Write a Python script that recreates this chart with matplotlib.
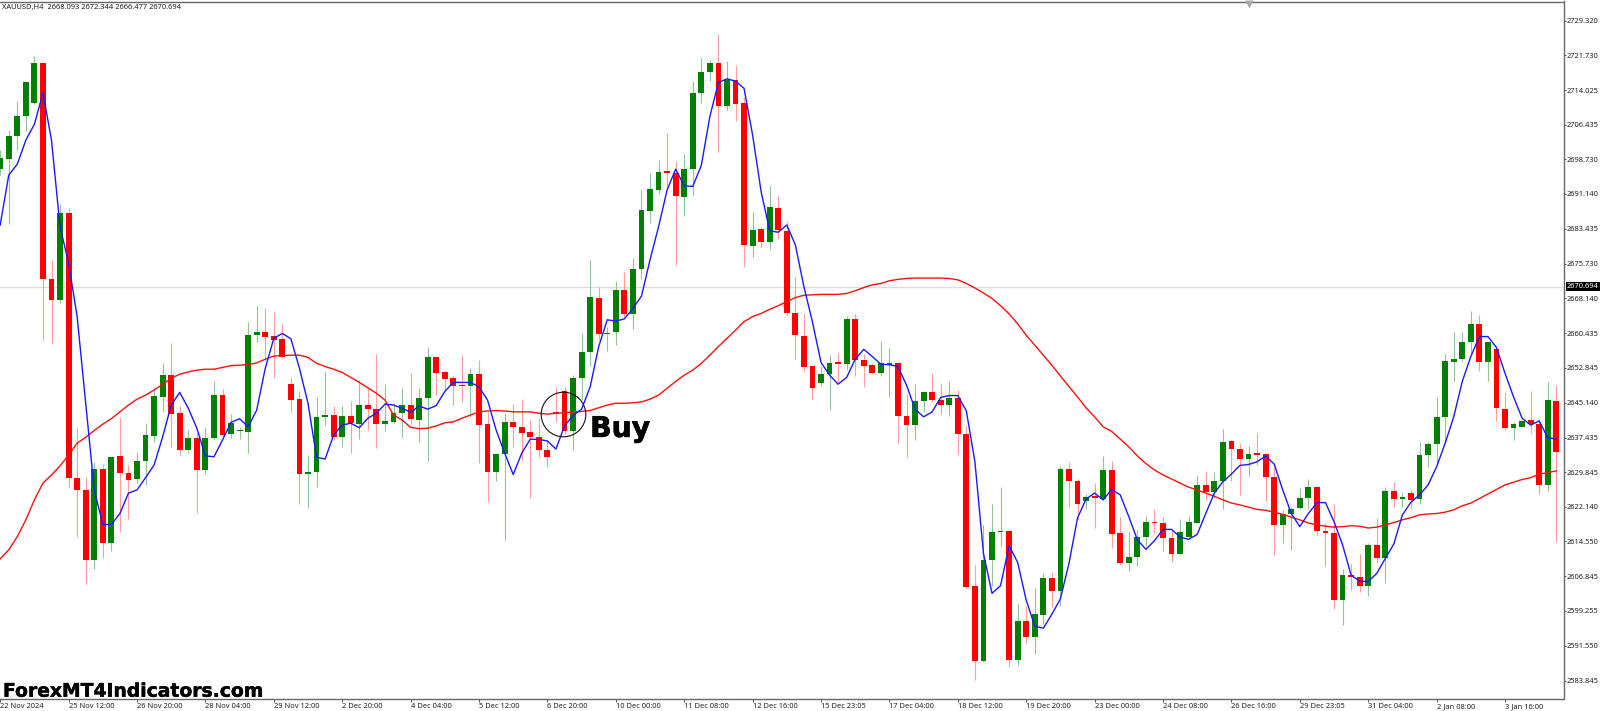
import matplotlib
matplotlib.use("Agg")
import matplotlib.pyplot as plt
import matplotlib.patheffects as pe
import numpy as np

opens = [2696.6,2698.8,2703.8,2708.3,2711.2,2719.9,2672.3,2667.8,2686.9,2628.5,
2625.9,2610.5,2630.4,2614.1,2633.3,2629.6,2628.2,2632.3,2637.8,2646.4,
2651.2,2642.8,2634.7,2637.3,2630.3,2637.4,2646.9,2638.2,2638.8,2638.7,
2660.1,2660.7,2659.8,2659.1,2649.2,2645.9,2629.3,2629.9,2641.9,2642.4,
2637.6,2642.3,2640.5,2644.7,2643.7,2640.5,2640.9,2642.8,2644.6,2641.3,
2646.2,2655.2,2651.8,2650.5,2649.0,2648.7,2651.4,2640.4,2629.8,2633.9,
2640.9,2639.8,2638.6,2637.6,2634.8,2643.0,2647.8,2638.9,2650.6,2656.3,
2668.3,2660.2,2660.6,2670.0,2664.7,2674.6,2687.4,2692.0,2696.0,2695.8,
2690.5,2696.6,2713.3,2718.1,2720.1,2710.6,2716.3,2711.1,2679.6,2683.3,
2680.6,2688.0,2683.0,2665.0,2659.9,2653.3,2649.5,2651.5,2654.0,2653.6,
2663.6,2654.5,2653.4,2651.7,2653.4,2653.9,2642.3,2640.2,2645.4,2647.5,
2645.7,2644.6,2646.2,2638.2,2604.7,2588.3,2610.5,2616.6,2616.9,2588.4,
2597.0,2593.5,2598.4,2606.4,2603.7,2630.4,2627.9,2623.5,2624.6,2623.9,
2630.3,2616.4,2609.9,2611.2,2615.5,2618.8,2618.6,2615.2,2611.8,2615.6,
2618.7,2626.9,2625.4,2627.9,2636.6,2635.0,2632.7,2633.9,2633.8,2628.7,
2618.2,2620.7,2621.9,2624.1,2626.6,2616.8,2616.4,2601.6,2607.1,2606.7,
2604.7,2613.8,2611.0,2625.7,2623.8,2625.2,2623.8,2633.7,2636.0,2642.0,
2654.0,2654.8,2658.4,2662.4,2654.2,2657.0,2643.8,2639.5,2639.7,2641.2,
2640.4,2627.0,2645.6]

closes = [2699.1,2703.9,2708.3,2715.8,2719.9,2672.3,2667.8,2686.9,2628.5,2625.9,
2610.5,2630.4,2614.1,2633.2,2629.6,2628.0,2632.3,2637.9,2646.7,2651.2,
2642.7,2634.7,2637.3,2630.3,2637.4,2646.9,2638.0,2640.6,2639.0,2660.0,
2660.6,2659.5,2658.9,2655.3,2645.7,2629.3,2629.9,2641.9,2642.4,2637.6,
2642.3,2640.6,2644.7,2643.7,2640.5,2641.1,2642.8,2644.6,2641.5,2646.2,
2655.2,2651.7,2650.4,2648.9,2648.7,2651.4,2640.3,2629.8,2633.9,2640.9,
2639.7,2638.5,2637.6,2634.6,2633.1,2642.6,2638.9,2650.6,2656.2,2668.4,
2660.2,2660.4,2670.0,2664.7,2674.6,2687.6,2692.2,2696.0,2695.8,2690.7,
2696.6,2713.3,2718.1,2720.1,2710.5,2716.3,2711.0,2679.8,2683.2,2680.6,
2688.2,2683.2,2665.0,2660.0,2653.1,2648.4,2651.5,2653.9,2653.7,2663.6,
2654.5,2653.3,2651.7,2653.8,2653.9,2642.3,2640.1,2645.5,2647.5,2645.7,
2644.6,2646.2,2638.2,2604.6,2588.3,2610.5,2616.6,2616.9,2588.4,2596.9,
2593.5,2598.5,2606.4,2603.7,2630.4,2627.9,2622.8,2624.4,2624.1,2630.3,
2616.2,2609.7,2611.2,2615.5,2618.8,2618.5,2615.2,2611.8,2616.7,2618.8,
2626.9,2625.4,2627.9,2636.5,2635.0,2632.7,2633.8,2633.6,2628.7,2618.1,
2620.7,2621.7,2624.1,2626.6,2616.8,2616.3,2601.6,2607.2,2606.7,2604.7,
2613.8,2611.0,2625.7,2623.9,2624.4,2623.7,2633.7,2636.0,2642.0,2654.3,
2654.8,2658.5,2662.4,2654.2,2658.4,2644.0,2639.5,2640.4,2641.1,2640.4,
2627.0,2645.7,2634.3]

highs = [2700.8,2705.2,2711.6,2715.8,2721.6,2720.2,2676.6,2688.9,2688.0,2639.5,
2628.7,2632.1,2631.6,2633.2,2642.0,2631.4,2634.2,2640.6,2648.6,2653.9,
2658.2,2644.4,2639.1,2638.4,2639.7,2649.8,2648.1,2642.6,2639.7,2663.0,
2666.4,2665.9,2665.1,2662.5,2650.5,2647.8,2633.6,2646.4,2651.8,2644.4,
2644.4,2645.5,2650.1,2648.3,2655.8,2649.2,2645.1,2648.3,2651.6,2648.3,
2657.3,2655.3,2652.3,2651.0,2655.6,2652.8,2654.5,2643.1,2634.0,2642.8,
2644.8,2645.9,2641.3,2641.7,2636.9,2648.6,2648.6,2651.2,2660.4,2676.6,
2670.7,2661.9,2671.9,2674.0,2677.0,2692.0,2695.7,2698.6,2704.5,2698.4,
2699.9,2716.1,2721.2,2720.7,2726.4,2720.4,2719.6,2712.4,2687.1,2683.8,
2692.9,2690.7,2685.0,2672.9,2664.7,2653.4,2653.3,2655.6,2656.0,2664.2,
2664.7,2655.9,2653.8,2658.7,2657.1,2653.9,2647.0,2649.2,2647.6,2651.7,
2649.5,2649.9,2647.9,2640.0,2609.3,2618.2,2622.8,2626.5,2617.1,2601.0,
2600.3,2604.2,2607.5,2607.9,2631.2,2632.0,2628.2,2625.0,2627.5,2633.4,
2632.2,2619.9,2616.6,2617.1,2620.2,2621.6,2620.0,2617.1,2619.4,2620.2,
2629.2,2629.8,2629.9,2639.3,2636.9,2636.2,2635.6,2638.4,2634.0,2631.0,
2621.5,2622.2,2626.3,2628.3,2626.8,2618.7,2622.8,2608.4,2609.6,2611.7,
2614.1,2619.6,2626.6,2627.6,2625.2,2625.9,2636.5,2636.5,2646.4,2655.9,
2660.6,2660.6,2665.3,2664.5,2658.6,2657.3,2647.4,2640.9,2641.3,2647.6,
2641.2,2649.6,2649.0]

lows = [2695.3,2684.5,2700.8,2705.0,2711.0,2658.9,2658.3,2667.2,2626.3,2615.6,
2605.2,2608.4,2610.8,2612.5,2616.7,2619.5,2627.4,2627.0,2636.5,2643.1,
2635.4,2633.6,2634.3,2620.9,2629.3,2636.9,2637.6,2637.4,2637.1,2634.0,
2658.4,2654.5,2650.5,2655.0,2643.1,2622.9,2621.9,2626.6,2640.2,2636.9,
2635.3,2634.0,2637.1,2639.1,2635.2,2638.9,2640.7,2637.6,2640.4,2636.5,
2632.3,2646.8,2647.9,2644.6,2645.3,2642.0,2631.8,2623.3,2627.9,2614.9,
2635.4,2632.5,2624.1,2633.1,2631.0,2640.9,2638.2,2634.6,2645.7,2653.2,
2658.9,2656.6,2657.8,2664.1,2661.3,2672.3,2684.7,2691.1,2692.0,2675.5,
2686.3,2690.7,2711.1,2716.1,2700.3,2709.6,2707.3,2675.1,2677.3,2679.5,
2679.0,2681.1,2664.5,2654.7,2652.2,2646.0,2648.8,2643.5,2649.4,2652.3,
2650.9,2648.5,2651.4,2651.0,2646.4,2636.3,2633.1,2636.8,2643.1,2645.3,
2642.6,2642.2,2633.8,2604.0,2584.0,2588.0,2604.7,2613.3,2586.9,2587.2,
2592.2,2589.7,2596.3,2600.2,2600.3,2622.2,2619.3,2621.7,2617.5,2623.7,
2613.0,2609.3,2608.1,2609.2,2613.5,2616.3,2612.5,2610.1,2611.6,2615.2,
2618.5,2623.7,2624.1,2621.7,2627.9,2624.8,2629.0,2631.4,2623.5,2611.6,
2614.1,2612.7,2621.7,2621.7,2615.8,2609.1,2599.6,2596.1,2603.8,2603.5,
2602.6,2609.7,2605.3,2622.2,2622.2,2621.7,2622.8,2631.0,2631.8,2636.2,
2650.0,2654.2,2656.0,2652.0,2650.0,2641.0,2639.0,2636.8,2639.7,2638.5,
2625.0,2625.7,2614.5]

fast_ma = [2684.3,2695.3,2697.7,2703.0,2706.5,2713.4,2703.0,2683.9,2675.9,2664.1,
2645.1,2625.9,2618.3,2618.3,2620.7,2625.2,2625.9,2628.6,2631.4,2637.6,
2644.6,2647.4,2643.9,2639.5,2633.4,2633.2,2636.9,2640.8,2641.6,2639.8,
2643.5,2652.7,2659.3,2660.4,2659.2,2652.7,2645.0,2633.1,2632.7,2638.0,
2640.2,2640.6,2639.6,2641.7,2642.8,2644.8,2644.6,2643.9,2643.0,2644.4,
2643.7,2644.5,2647.6,2649.6,2649.6,2649.6,2648.6,2645.7,2639.1,2634.0,
2629.3,2634.0,2637.1,2637.0,2636.7,2634.9,2640.0,2642.3,2643.7,2648.6,
2657.5,2663.4,2663.1,2663.6,2665.9,2668.6,2676.6,2683.9,2692.0,2696.6,
2692.9,2692.8,2697.4,2708.2,2715.7,2716.5,2716.0,2714.4,2704.1,2691.6,
2683.0,2682.7,2684.3,2679.9,2670.7,2662.9,2654.0,2651.2,2649.2,2650.7,
2654.7,2656.9,2655.3,2653.6,2653.5,2653.1,2649.0,2643.7,2642.0,2643.1,
2646.3,2646.7,2646.7,2643.3,2632.1,2611.9,2603.1,2604.8,2613.6,2609.9,
2601.6,2595.9,2595.4,2598.5,2601.9,2609.7,2619.7,2623.9,2625.2,2623.7,
2626.0,2624.8,2620.0,2614.9,2612.8,2614.7,2617.2,2617.2,2615.5,2615.0,
2616.1,2620.7,2625.2,2627.7,2629.4,2631.3,2631.5,2632.1,2633.4,2631.6,
2625.9,2620.7,2617.8,2620.7,2623.1,2623.1,2618.9,2613.8,2607.1,2605.8,
2605.7,2607.5,2610.8,2614.0,2620.4,2623.2,2624.8,2627.0,2631.0,2636.2,
2642.0,2649.8,2655.3,2659.7,2659.7,2657.3,2651.6,2646.4,2641.7,2640.2,
2641.1,2637.4,2637.1]

slow_ma = [2610.7,2612.7,2615.6,2619.3,2623.7,2627.4,2629.2,2631.2,2633.6,2636.2,
2637.5,2639.0,2640.4,2641.6,2643.1,2644.6,2645.9,2646.8,2647.9,2649.2,
2650.5,2651.4,2651.9,2652.3,2652.5,2652.5,2652.9,2653.3,2653.4,2653.5,
2653.9,2654.7,2655.4,2655.5,2655.6,2655.6,2655.1,2653.8,2653.1,2652.5,
2651.8,2650.7,2649.6,2648.4,2647.2,2645.7,2642.4,2641.3,2639.7,2639.4,
2639.5,2640.0,2640.7,2640.9,2641.7,2642.4,2643.1,2643.3,2643.4,2643.3,
2643.1,2643.1,2643.1,2642.8,2642.6,2642.8,2642.9,2643.1,2643.2,2643.4,
2644.0,2644.6,2645.0,2645.0,2645.1,2645.3,2645.9,2646.8,2648.3,2649.8,
2651.2,2652.3,2653.8,2655.6,2657.5,2659.3,2661.1,2663.0,2664.1,2664.8,
2665.7,2666.5,2667.4,2668.3,2668.8,2668.9,2669.0,2669.0,2669.0,2669.2,
2669.8,2670.5,2671.1,2671.4,2672.0,2672.3,2672.5,2672.6,2672.6,2672.6,
2672.6,2672.5,2672.2,2671.4,2670.4,2669.3,2668.1,2666.5,2664.7,2662.5,
2660.0,2657.8,2655.6,2653.4,2651.0,2648.7,2646.4,2644.0,2642.0,2639.8,
2638.8,2637.1,2635.4,2633.4,2631.7,2630.3,2629.2,2628.3,2627.4,2626.5,
2625.9,2625.2,2624.5,2623.7,2623.0,2622.6,2622.1,2621.6,2621.4,2621.0,
2620.5,2619.9,2619.3,2618.6,2618.2,2617.9,2617.7,2617.8,2618.0,2617.9,
2617.5,2617.7,2618.2,2618.7,2619.3,2619.8,2620.4,2620.6,2620.7,2621.0,
2621.5,2622.4,2623.0,2624.0,2625.0,2626.0,2627.0,2627.6,2628.2,2628.6,
2629.4,2629.7,2630.1]

price_ticks = [2729.320,2721.730,2714.025,2706.435,2698.730,2691.140,2683.435,2675.730,
2668.140,2660.435,2652.845,2645.140,2637.435,2629.845,2622.140,2614.550,2606.845,
2599.255,2591.550,2583.845]
time_labels = ["22 Nov 2024","25 Nov 12:00","26 Nov 20:00","28 Nov 04:00","29 Nov 12:00",
"2 Dec 20:00","4 Dec 04:00","5 Dec 12:00","6 Dec 20:00","10 Dec 00:00","11 Dec 08:00",
"12 Dec 16:00","15 Dec 23:05","17 Dec 04:00","18 Dec 12:00","19 Dec 20:00","23 Dec 00:00",
"24 Dec 08:00","26 Dec 16:00","29 Dec 23:05","31 Dec 04:00","2 Jan 08:00","3 Jan 16:00"]
bid = 2670.694
header = "XAUUSD,H4  2668.093 2672.344 2666.477 2670.694"
signal_bar = 65.86
signal_price = 2642.6

W, H = 1600, 711
fig = plt.figure(figsize=(W/100, H/100), dpi=100, facecolor="white")
ax = fig.add_axes([0, (H-699.3)/H, 1563.5/W, (699.3-1.5)/H])
ax.set_xlim(-0.0234, 182.84)
ax.set_ylim(2579.75, 2733.55)
FONT = "Noto Sans"
TXT = "#222222"
FS = 5.4

n = len(opens)
xs = np.arange(n)
o, c, hi, lo = map(np.array, (opens, closes, highs, lows))
up = c >= o
RED, GREEN = "#ff0000", "#007f00"

ax.axhline(bid, color="#dddddd", lw=1.0, zorder=1)
ax.vlines(xs[up], lo[up], hi[up], color="#93c493", lw=0.8, zorder=2)
ax.vlines(xs[~up], lo[~up], hi[~up], color="#ff9c9c", lw=0.8, zorder=2)
tops = np.maximum(o, c); bots = np.minimum(o, c)
heights = np.maximum(tops-bots, 0.35)
ax.bar(xs[up], heights[up], bottom=bots[up], width=0.68, color=GREEN, lw=0, zorder=3)
ax.bar(xs[~up], heights[~up], bottom=bots[~up], width=0.68, color=RED, lw=0, zorder=3)

ax.plot(xs, slow_ma, color="#ff1010", lw=1.0, zorder=4, solid_joinstyle="round")
ax.plot(xs, fast_ma, color="#1a1aff", lw=1.0, zorder=5, solid_joinstyle="round")

ax.plot([signal_bar], [signal_price], marker="o", ms=32.1, mfc="none", mec="#111111",
        mew=0.8, zorder=6)
ax.text(69.0, 2637.6, "Buy", fontfamily="DejaVu Sans", fontweight="bold", fontsize=20.3,
        color="black", va="baseline", ha="left", zorder=7,
        path_effects=[pe.withStroke(linewidth=0.5, foreground="black")])

ax.spines["left"].set_visible(False)
for s in ("top", "right", "bottom"):
    ax.spines[s].set_color("#666666")
    ax.spines[s].set_linewidth(1.0)

ax.yaxis.tick_right()
ax.set_yticks(price_ticks, [f"{v:.3f}" for v in price_ticks])
ax.tick_params(axis="y", length=1.5, width=0.7, color="#555555", pad=0.7,
               labelsize=FS, labelcolor=TXT)
ax.set_xticks(np.arange(len(time_labels))*8, time_labels, ha="left")
ax.tick_params(axis="x", length=2, width=0.7, color="#555555", pad=1.0,
               labelsize=FS, labelcolor=TXT)
for t in ax.get_xticklabels()+ax.get_yticklabels():
    t.set_fontfamily(FONT)

ax.text(1.0021, bid, f"{bid:.3f}", transform=ax.get_yaxis_transform(), color="white",
        fontfamily=FONT, fontsize=FS, va="center", ha="left",
        bbox=dict(fc="black", ec="black", pad=0.8, lw=0), zorder=8, clip_on=False)

fig.text(2/W, 1-7.8/H, header, fontfamily=FONT, fontsize=FS, color=TXT, va="center", ha="left")
fig.text(3/W, 1-696.7/H, "ForexMT4Indicators.com", fontfamily="DejaVu Sans", fontweight="bold",
         fontsize=13.5, color="black", va="baseline", ha="left", zorder=10,
         path_effects=[pe.withStroke(linewidth=0.3, foreground="black")])

ax.plot([1249/1563.5], [0.9965], marker="v", ms=6, color="#aaaaaa", mec="none",
        transform=ax.transAxes, clip_on=False, zorder=9)

fig.savefig("out.png", dpi=100, facecolor="white")
